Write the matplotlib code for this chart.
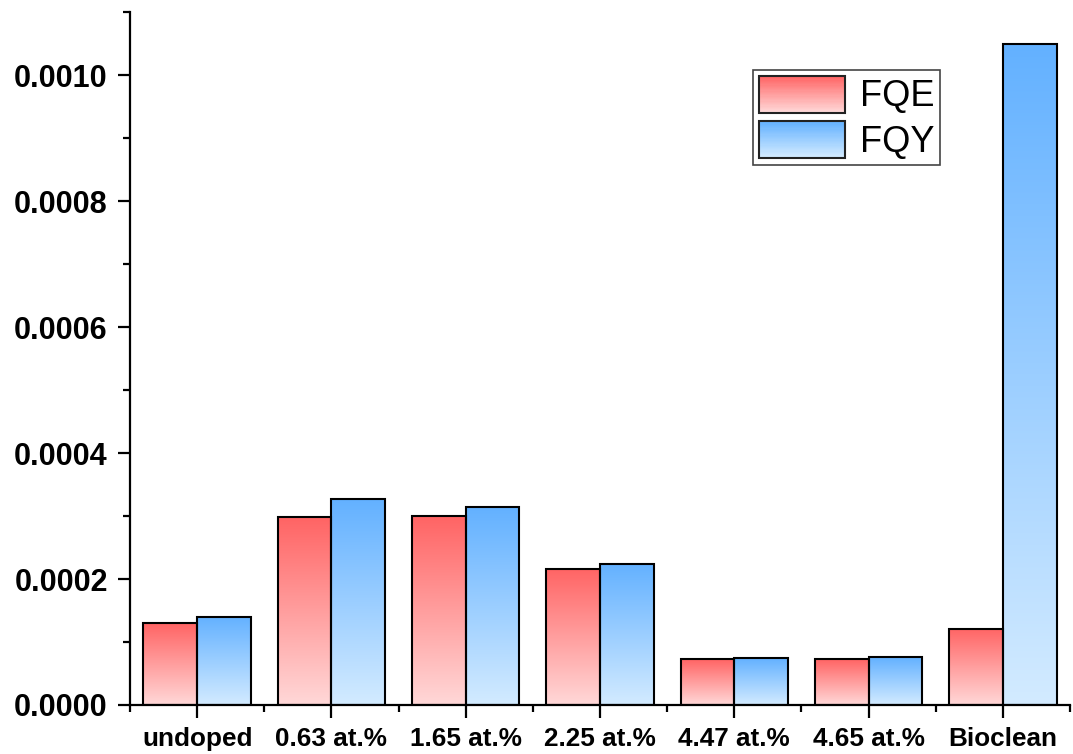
import matplotlib
matplotlib.use("Agg")
import matplotlib.pyplot as plt
import numpy as np
from matplotlib.patches import Rectangle
from matplotlib.legend_handler import HandlerBase
from matplotlib.colors import LinearSegmentedColormap
from matplotlib.ticker import MultipleLocator

plt.rcParams['font.family'] = ['Liberation Sans', 'DejaVu Sans']

categories = ['undoped', '0.63 at.%', '1.65 at.%', '2.25 at.%', '4.47 at.%', '4.65 at.%', 'Bioclean']
fqe = [0.000130, 0.000298, 0.000300, 0.000216, 0.000073, 0.000073, 0.000121]
fqy = [0.000140, 0.000327, 0.000314, 0.000224, 0.0000745, 0.0000755, 0.001049]

red_top, red_bot = '#ff6464', '#ffd8d8'
blue_top, blue_bot = '#63b1ff', '#d3ebff'


def grad_cmap(bot, top):
    return LinearSegmentedColormap.from_list('g', [bot, top])


class GradHandler(HandlerBase):
    def __init__(self, bot, top, n=30):
        super().__init__()
        self.bot, self.top, self.n = bot, top, n

    def create_artists(self, legend, orig_handle, xdescent, ydescent,
                       width, height, fontsize, trans):
        cm = grad_cmap(self.bot, self.top)
        arts = []
        h = height / self.n
        for i in range(self.n):
            r = Rectangle((-xdescent, -ydescent + i * h), width, h * 1.05,
                          facecolor=cm(i / (self.n - 1)), edgecolor='none',
                          transform=trans)
            arts.append(r)
        arts.append(Rectangle((-xdescent, -ydescent), width, height,
                              facecolor='none', edgecolor='#222222', lw=1.5,
                              transform=trans))
        return arts


fig = plt.figure(figsize=(10.73, 7.54), dpi=100)
ax = fig.add_axes([0.1212, 0.065, 0.876, 0.919])

x = np.arange(len(categories))
w = 0.4
grad = np.linspace(1, 0, 256).reshape(-1, 1)

b1 = ax.bar(x - w / 2, fqe, w, facecolor='none', edgecolor='black', lw=1.5, zorder=3)
b2 = ax.bar(x + w / 2, fqy, w, facecolor='none', edgecolor='black', lw=1.5, zorder=3)

for bars, bot, top in [(b1, red_bot, red_top), (b2, blue_bot, blue_top)]:
    cm = grad_cmap(bot, top)
    for p in bars:
        x0, y0 = p.get_x(), p.get_y()
        ax.imshow(grad, cmap=cm, aspect='auto', vmin=0, vmax=1,
                  extent=(x0, x0 + p.get_width(), y0, y0 + p.get_height()),
                  zorder=2, interpolation='bicubic')

ax.set_xlim(-0.5, len(categories) - 0.5)
ax.set_ylim(0, 0.0011)

ax.spines['top'].set_visible(False)
ax.spines['right'].set_visible(False)
ax.spines['left'].set_linewidth(1.6)
ax.spines['bottom'].set_linewidth(1.6)

ax.set_xticks(x)
ax.set_xticklabels(categories)
ax.xaxis.set_minor_locator(MultipleLocator(1, offset=0.5))
ax.yaxis.set_major_locator(MultipleLocator(0.0002))
ax.yaxis.set_minor_locator(MultipleLocator(0.0001))
ax.yaxis.set_major_formatter(plt.FuncFormatter(lambda v, p: '%.4f' % v))

ax.tick_params(which='major', length=9, width=1.6, direction='out')
ax.tick_params(which='minor', length=5, width=1.6, direction='out')
ax.tick_params(axis='x', which='major', labelsize=18.8, pad=7)
ax.tick_params(axis='y', which='major', labelsize=22, pad=7)
for lab in ax.get_xticklabels() + ax.get_yticklabels():
    lab.set_fontweight('bold')

h1 = Rectangle((0, 0), 1, 1)
h2 = Rectangle((0, 0), 1, 1)
leg = ax.legend([h1, h2], ['FQE', 'FQY'],
                handler_map={h1: GradHandler(red_bot, red_top), h2: GradHandler(blue_bot, blue_top)},
                loc='upper left', bbox_to_anchor=(0.663, 0.916), borderaxespad=0,
                fontsize=26, handlelength=2.4, handleheight=1.2, labelspacing=0.18,
                handletextpad=0.4, borderpad=0.15, fancybox=False, framealpha=1)
leg.get_frame().set_edgecolor('#444444')
leg.get_frame().set_linewidth(1.2)

fig.savefig('out.png', dpi=100)
